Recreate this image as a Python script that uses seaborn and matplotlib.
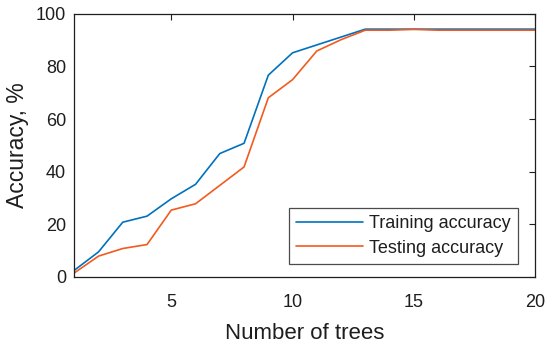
import pandas as pd
import seaborn as sns
import matplotlib.pyplot as plt

trees = list(range(1, 21))
train_acc = [2.5, 9.5, 20.8, 23.1, 29.7, 35.2, 46.9, 50.8, 76.7, 85.2,
             88.2, 91.2, 94.2, 94.2, 94.2, 94.2, 94.2, 94.2, 94.2, 94.2]
test_acc = [1.5, 7.9, 10.8, 12.3, 25.4, 27.8, 34.8, 41.8, 68.1, 75.0,
            85.9, 90.2, 93.8, 93.8, 94.1, 93.8, 93.8, 93.8, 93.8, 93.8]

df = pd.DataFrame({
    'trees': trees * 2,
    'acc': train_acc + test_acc,
    'set': ['Training accuracy'] * 20 + ['Testing accuracy'] * 20,
})

sns.set_style('white')
plt.rcParams['font.family'] = ['Liberation Sans', 'DejaVu Sans']
ink = '#1e1e1e'

fig, ax = plt.subplots(figsize=(5.5, 3.47), dpi=100)
fig.subplots_adjust(left=0.135, right=0.973, top=0.96, bottom=0.202)

sns.lineplot(data=df, x='trees', y='acc', hue='set',
             palette={'Training accuracy': '#0072BD', 'Testing accuracy': '#F25A1E'},
             linewidth=1.2, ax=ax)

ax.set_xlim(1, 20)
ax.set_ylim(0, 100)
ax.set_xticks([5, 10, 15, 20])
ax.set_yticks([0, 20, 40, 60, 80, 100])
ax.tick_params(direction='in', top=True, right=True, labelsize=13,
               length=4, width=0.8, color=ink, labelcolor=ink)
ax.tick_params(axis='x', pad=12)
ax.tick_params(axis='y', pad=6)
for s in ax.spines.values():
    s.set_color(ink)
    s.set_linewidth(0.9)

ax.set_xlabel('Number of trees', fontsize=16, color=ink, labelpad=9)
ax.set_ylabel('Accuracy, %', fontsize=16.5, color=ink, labelpad=5)

leg = ax.legend(loc='lower right', bbox_to_anchor=(0.963, 0.05), fontsize=13,
                frameon=True, fancybox=False, handlelength=3.7,
                borderpad=0.4, labelspacing=0.4, handletextpad=0.35,
                borderaxespad=0)
leg.get_frame().set_edgecolor(ink)
leg.get_frame().set_linewidth(0.9)
for t in leg.get_texts():
    t.set_color(ink)

plt.savefig('out.png', dpi=100)
